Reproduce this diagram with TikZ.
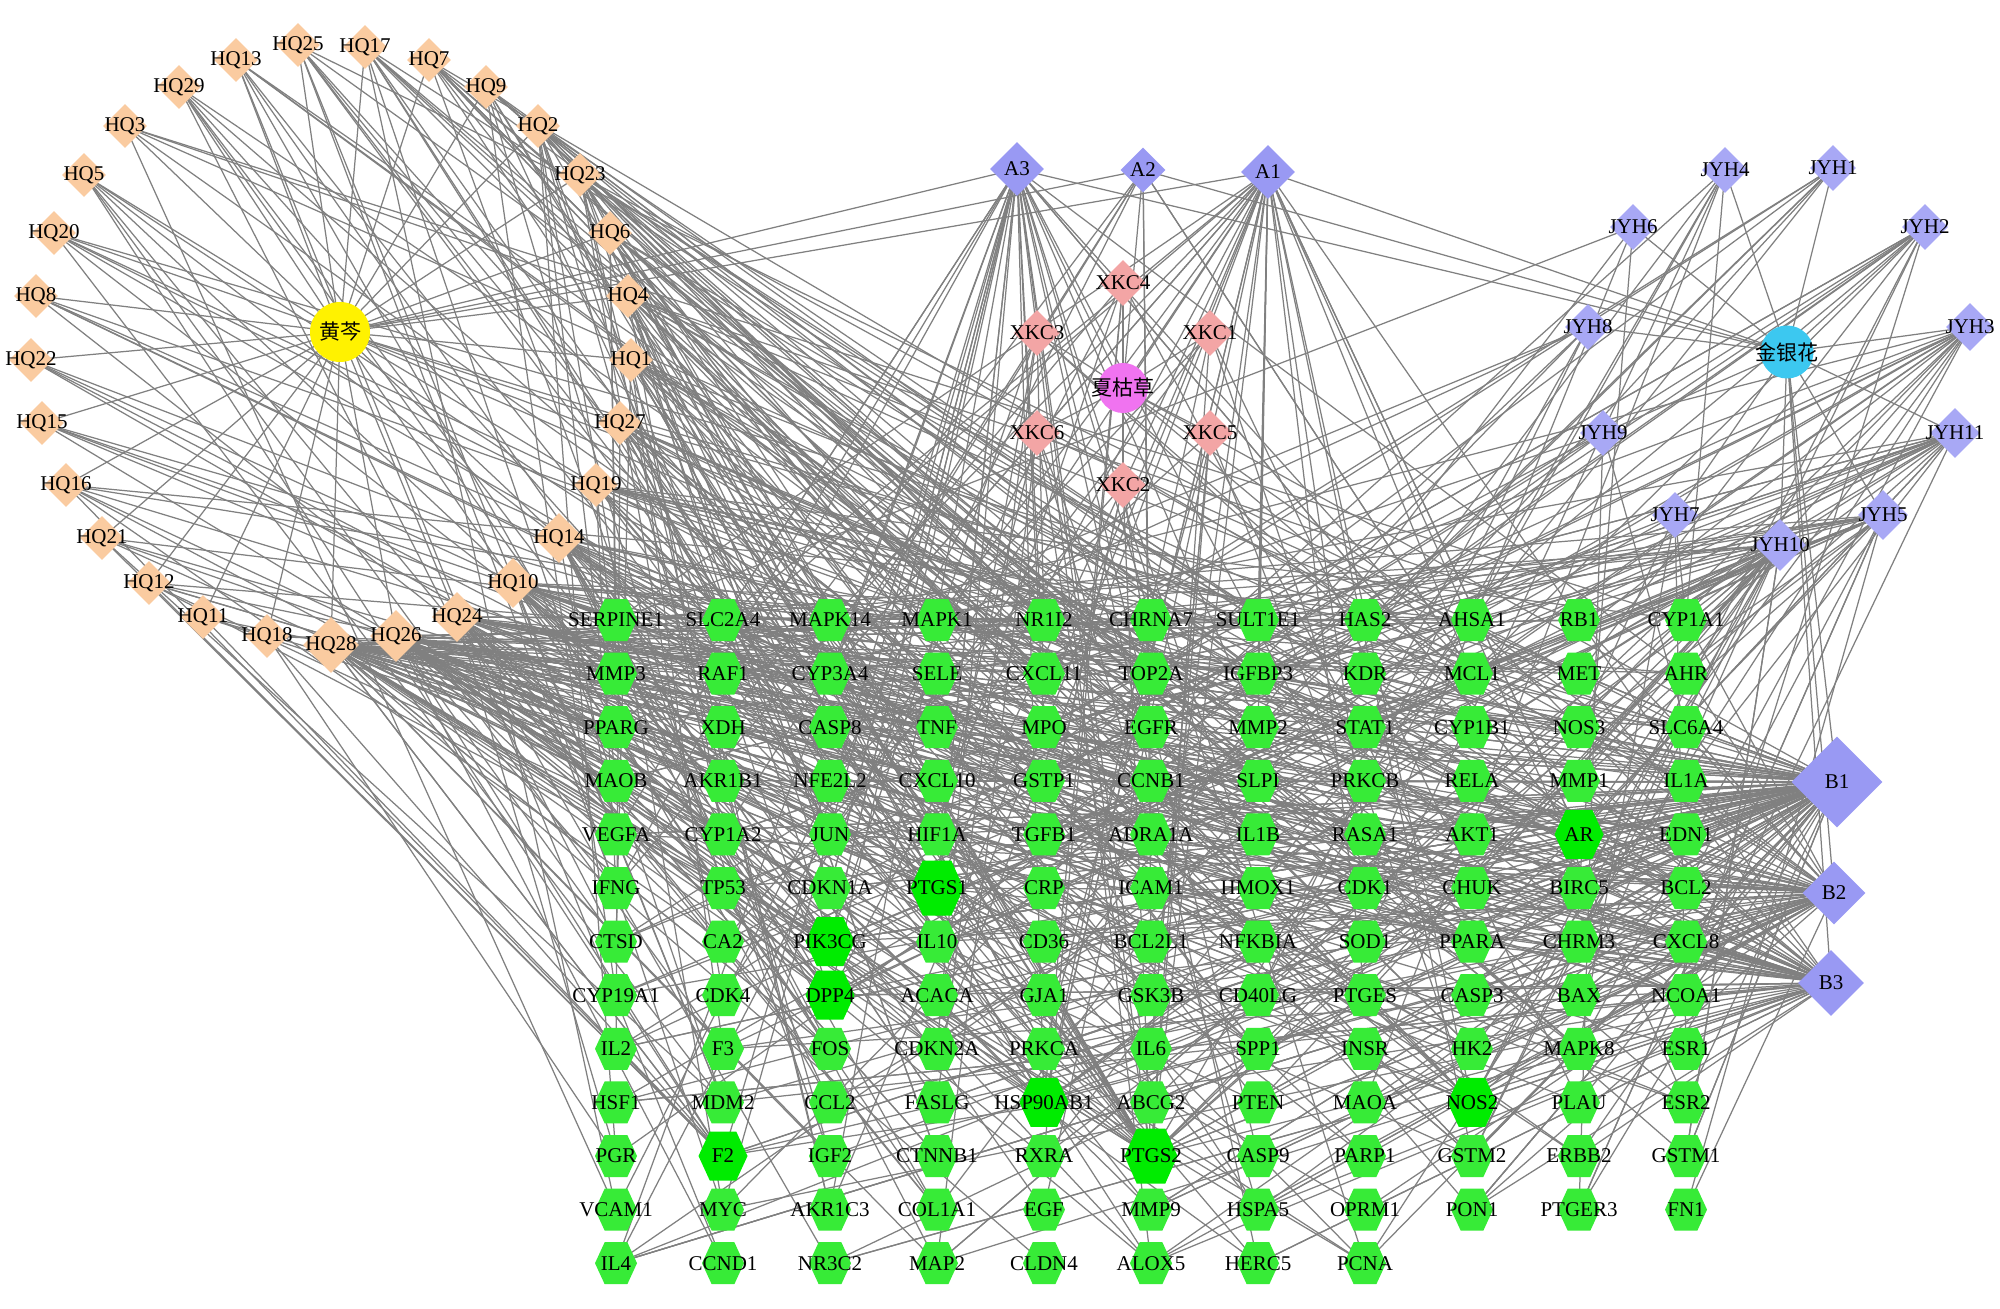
\documentclass[tikz,border=0pt]{standalone}
\usepackage{fontspec}
\setmainfont{Liberation Serif}
\newfontfamily\cjk{Noto Sans CJK SC}
\usetikzlibrary{shapes.geometric}
\pgfdeclarelayer{edges}
\pgfsetlayers{edges,main}
\definecolor{hqc}{RGB}{250,203,160}
\definecolor{xkcc}{RGB}{243,165,165}
\definecolor{bluec}{RGB}{153,153,243}
\definecolor{jyhc}{RGB}{168,168,245}
\definecolor{xkh}{RGB}{240,115,240}
\definecolor{jyhh}{RGB}{60,200,240}
\definecolor{gnorm}{RGB}{55,235,55}
\definecolor{gbig}{RGB}{0,236,0}
\definecolor{edgec}{RGB}{128,128,128}
\tikzset{
  lbl/.style={font=\fontsize{10.5}{12}\selectfont, inner sep=0pt, text=black},
  cjklbl/.style={font=\cjk\fontsize{10.5}{12}\selectfont, inner sep=0pt, text=black},
  edge/.style={draw=edgec, line width=0.62pt},
}
\newcommand\mkdia[6]{\node[diamond,inner sep=0pt,fill=#1,minimum width=#2pt,minimum height=#2pt,label={[lbl]center:#6}] (#3) at (#4,#5) {};}
\newcommand\hexfill[5]{\fill[#5] ({#1-0.27*#3},{#2-0.5*#4}) -- ({#1+0.27*#3},{#2-0.5*#4}) -- ({#1+0.5*#3},#2) -- ({#1+0.27*#3},{#2+0.5*#4}) -- ({#1-0.27*#3},{#2+0.5*#4}) -- ({#1-0.5*#3},#2) -- cycle;}
\begin{document}
\begin{tikzpicture}[x=0.5pt,y=-0.5pt]
\useasboundingbox (0,0) rectangle (2000,1309);
\begin{pgfonlayer}{edges}
\fill[white] (0,0) rectangle (2000,1309);
\end{pgfonlayer}

% ---------- herb nodes ----------
\node[circle,fill=yellow,minimum size=30pt,inner sep=0pt,label={[cjklbl]center:黄芩}] (hqherb) at (340,332) {};
\node[circle,fill=xkh,minimum size=25pt,inner sep=0pt,label={[cjklbl]center:夏枯草}] (xkcherb) at (1123,388) {};
\node[circle,fill=jyhh,minimum size=26.5pt,inner sep=0pt,label={[cjklbl]center:金银花}] (jyhherb) at (1787,352) {};

% ---------- HQ compounds ----------
\mkdia{hqc}{22}{hq13}{236}{60}{HQ13}
\mkdia{hqc}{22}{hq25}{298}{45}{HQ25}
\mkdia{hqc}{22}{hq17}{365}{47}{HQ17}
\mkdia{hqc}{22}{hq7}{429}{60}{HQ7}
\mkdia{hqc}{22}{hq29}{179}{87}{HQ29}
\mkdia{hqc}{22}{hq9}{486}{87}{HQ9}
\mkdia{hqc}{22}{hq3}{125}{126}{HQ3}
\mkdia{hqc}{22}{hq2}{538}{126}{HQ2}
\mkdia{hqc}{22}{hq5}{84}{175}{HQ5}
\mkdia{hqc}{22}{hq23}{580}{175}{HQ23}
\mkdia{hqc}{22}{hq20}{54}{233}{HQ20}
\mkdia{hqc}{22}{hq6}{610}{233}{HQ6}
\mkdia{hqc}{22}{hq8}{36}{296}{HQ8}
\mkdia{hqc}{22}{hq4}{628}{296}{HQ4}
\mkdia{hqc}{22}{hq22}{31}{360}{HQ22}
\mkdia{hqc}{22}{hq1}{631}{360}{HQ1}
\mkdia{hqc}{22}{hq15}{42}{423}{HQ15}
\mkdia{hqc}{22}{hq27}{620}{423}{HQ27}
\mkdia{hqc}{22}{hq16}{66}{485}{HQ16}
\mkdia{hqc}{22}{hq19}{596}{485}{HQ19}
\mkdia{hqc}{22}{hq21}{102}{538}{HQ21}
\mkdia{hqc}{25}{hq14}{559}{538}{HQ14}
\mkdia{hqc}{22}{hq12}{149}{583}{HQ12}
\mkdia{hqc}{25}{hq10}{513}{583}{HQ10}
\mkdia{hqc}{22}{hq11}{203}{617}{HQ11}
\mkdia{hqc}{25}{hq24}{457}{617}{HQ24}
\mkdia{hqc}{22}{hq18}{267}{636}{HQ18}
\mkdia{hqc}{28}{hq28}{331}{645}{HQ28}
\mkdia{hqc}{26}{hq26}{396}{636}{HQ26}

% ---------- A / XKC ----------
\mkdia{bluec}{27}{a3}{1017}{169}{A3}
\mkdia{bluec}{22.5}{a2}{1143}{170}{A2}
\mkdia{bluec}{27}{a1}{1268}{172}{A1}
\mkdia{xkcc}{23}{xkc4}{1123}{283}{XKC4}
\mkdia{xkcc}{23}{xkc3}{1037}{333}{XKC3}
\mkdia{xkcc}{23}{xkc1}{1210}{333}{XKC1}
\mkdia{xkcc}{23}{xkc6}{1037}{433}{XKC6}
\mkdia{xkcc}{23}{xkc5}{1210}{433}{XKC5}
\mkdia{xkcc}{23}{xkc2}{1123}{485}{XKC2}

% ---------- JYH ----------
\mkdia{jyhc}{23}{jyh4}{1725}{170}{JYH4}
\mkdia{jyhc}{23}{jyh1}{1833}{168}{JYH1}
\mkdia{jyhc}{23}{jyh6}{1633}{227}{JYH6}
\mkdia{jyhc}{23}{jyh2}{1925}{227}{JYH2}
\mkdia{jyhc}{23}{jyh8}{1588}{327}{JYH8}
\mkdia{jyhc}{24}{jyh3}{1970}{327}{JYH3}
\mkdia{jyhc}{23}{jyh9}{1603}{433}{JYH9}
\mkdia{jyhc}{25}{jyh11}{1955}{433}{JYH11}
\mkdia{jyhc}{23}{jyh7}{1675}{515}{JYH7}
\mkdia{jyhc}{25}{jyh5}{1883}{515}{JYH5}
\mkdia{jyhc}{26}{jyh10}{1780}{545}{JYH10}

% ---------- B ----------
\mkdia{bluec}{45.5}{b1}{1837}{782}{B1}
\mkdia{bluec}{31.5}{b2}{1834}{893}{B2}
\mkdia{bluec}{33}{b3}{1831}{983}{B3}

% ---------- genes ----------
\foreach \lab/\s [count=\i from 0] in {
SERPINE1/0,SLC2A4/0,MAPK14/0,MAPK1/0,NR1I2/0,CHRNA7/0,SULT1E1/0,HAS2/0,AHSA1/0,RB1/0,CYP1A1/0,
MMP3/0,RAF1/0,CYP3A4/0,SELE/0,CXCL11/0,TOP2A/0,IGFBP3/0,KDR/0,MCL1/0,MET/0,AHR/0,
PPARG/0,XDH/0,CASP8/0,TNF/0,MPO/0,EGFR/0,MMP2/0,STAT1/0,CYP1B1/0,NOS3/0,SLC6A4/0,
MAOB/0,AKR1B1/0,NFE2L2/0,CXCL10/0,GSTP1/0,CCNB1/0,SLPI/0,PRKCB/0,RELA/0,MMP1/0,IL1A/0,
VEGFA/0,CYP1A2/0,JUN/0,HIF1A/0,TGFB1/0,ADRA1A/0,IL1B/0,RASA1/0,AKT1/0,AR/1,EDN1/0,
IFNG/0,TP53/0,CDKN1A/0,PTGS1/2,CRP/0,ICAM1/0,HMOX1/0,CDK1/0,CHUK/0,BIRC5/0,BCL2/0,
CTSD/0,CA2/0,PIK3CG/1,IL10/0,CD36/0,BCL2L1/0,NFKBIA/0,SOD1/0,PPARA/0,CHRM3/0,CXCL8/0,
CYP19A1/0,CDK4/0,DPP4/1,ACACA/0,GJA1/0,GSK3B/0,CD40LG/0,PTGES/0,CASP3/0,BAX/0,NCOA1/0,
IL2/0,F3/0,FOS/0,CDKN2A/0,PRKCA/0,IL6/0,SPP1/0,INSR/0,HK2/0,MAPK8/0,ESR1/0,
HSF1/0,MDM2/0,CCL2/0,FASLG/0,HSP90AB1/1,ABCG2/0,PTEN/0,MAOA/0,NOS2/1,PLAU/0,ESR2/0,
PGR/0,F2/1,IGF2/0,CTNNB1/0,RXRA/0,PTGS2/2,CASP9/0,PARP1/0,GSTM2/0,ERBB2/0,GSTM1/0,
VCAM1/0,MYC/0,AKR1C3/0,COL1A1/0,EGF/0,MMP9/0,HSPA5/0,OPRM1/0,PON1/0,PTGER3/0,FN1/0,
IL4/0,CCND1/0,NR3C2/0,MAP2/0,CLDN4/0,ALOX5/0,HERC5/0,PCNA/0}{
  \pgfmathtruncatemacro\r{floor((\i+0.5)/11)}
  \pgfmathtruncatemacro\c{\i-11*\r}
  \pgfmathsetmacro\x{616+107*\c}
  \pgfmathsetmacro\y{620+53.6*\r}
  \ifcase\s\relax
    \def\hw{42}\def\hh{42}\def\hc{gnorm}%
  \or
    \def\hw{49}\def\hh{49}\def\hc{gbig}%
  \or
    \def\hw{53}\def\hh{55}\def\hc{gbig}%
  \fi
  \hexfill{\x}{\y}{\hw}{\hh}{\hc}
  \node[lbl] (g\i) at (\x,\y) {\lab};
}

% ---------- connectors ----------
\begin{pgfonlayer}{edges}
% herb -- compound
\foreach \c in {hq1,hq2,hq3,hq4,hq5,hq6,hq7,hq8,hq9,hq10,hq11,hq12,hq13,hq14,hq15,hq16,hq17,hq18,hq19,hq20,hq21,hq22,hq23,hq24,hq25,hq26,hq27,hq28,hq29,a1,a2,a3,b1,b2,b3}
  {\draw[edge] (hqherb.center) -- (\c.center);}
\foreach \c in {xkc1,xkc2,xkc3,xkc4,xkc5,xkc6,a1,a2,a3,b1,b2,b3}
  {\draw[edge] (xkcherb.center) -- (\c.center);}
\foreach \c in {jyh1,jyh2,jyh3,jyh4,jyh5,jyh6,jyh7,jyh8,jyh9,jyh10,jyh11,a1,a2,a3,b1,b2,b3}
  {\draw[edge] (jyhherb.center) -- (\c.center);}
% compound -- target
\pgfmathsetseed{2024}
\foreach \c/\d in {hq28/42,hq26/38,hq24/30,hq10/24,hq14/22,hq19/16,hq27/16,hq1/16,hq4/16,hq6/14,hq23/13,hq2/13,hq9/9,hq7/11,hq17/9,hq25/7,hq13/7,hq29/6,hq3/5,hq5/6,hq20/6,hq8/5,hq22/4,hq15/5,hq16/6,hq21/5,hq12/6,hq11/4,hq18/4,
  a3/26,a2/8,a1/26,xkc1/5,xkc2/5,xkc3/5,xkc4/5,xkc5/5,xkc6/5,
  jyh10/24,jyh5/19,jyh11/17,jyh3/14,jyh2/11,jyh1/7,jyh4/7,jyh6/4,jyh8/6,jyh9/6,jyh7/6,
  b1/96,b2/52,b3/52}{
  \foreach \j in {1,...,\d}{
    \pgfmathtruncatemacro\k{min(139,140*pow(rnd+0.001,1.15))}
    \draw[edge] (\c.center) -- (g\k.center);
  }
}
% hub targets
\foreach \c in {hq28,hq26,hq24,hq10,hq14,hq19,hq27,hq1,hq4,hq6,hq23,hq2,hq7,hq9,hq17,hq25,a1,a3,b1,b2,b3,jyh10,jyh5,jyh11,jyh3,xkc2,xkc5,xkc6}
  {\draw[edge] (\c.center) -- (g115.center);}
\foreach \c in {hq28,hq26,hq24,hq10,hq14,hq27,hq4,hq6,a1,a3,b1,b2,b3,jyh10,jyh5,xkc3}
  {\draw[edge] (\c.center) -- (g58.center);}
\foreach \c in {hq28,hq26,hq24,hq10,hq19,hq1,a1,a3,b1,b2,jyh10,jyh11,xkc4}
  {\draw[edge] (\c.center) -- (g103.center);}
\foreach \c in {hq28,hq26,hq24,hq14,hq2,a3,b1,b3,jyh5,jyh3}
  {\draw[edge] (\c.center) -- (g79.center);}
\foreach \c in {hq28,hq26,hq10,hq23,a1,b1,b2,b3,jyh10,jyh2,xkc1}
  {\draw[edge] (\c.center) -- (g107.center);}
\foreach \c in {hq28,hq26,hq24,hq27,a1,a3,b1,b2,b3,jyh10,jyh11}
  {\draw[edge] (\c.center) -- (g53.center);}
\foreach \c in {hq28,hq26,hq12,hq16,hq21,a3,b1,b3}
  {\draw[edge] (\c.center) -- (g111.center);}
\foreach \c in {hq28,hq26,hq24,hq10,hq4,a3,b1,b2,jyh5}
  {\draw[edge] (\c.center) -- (g68.center);}
\end{pgfonlayer}
\end{tikzpicture}
\end{document}
